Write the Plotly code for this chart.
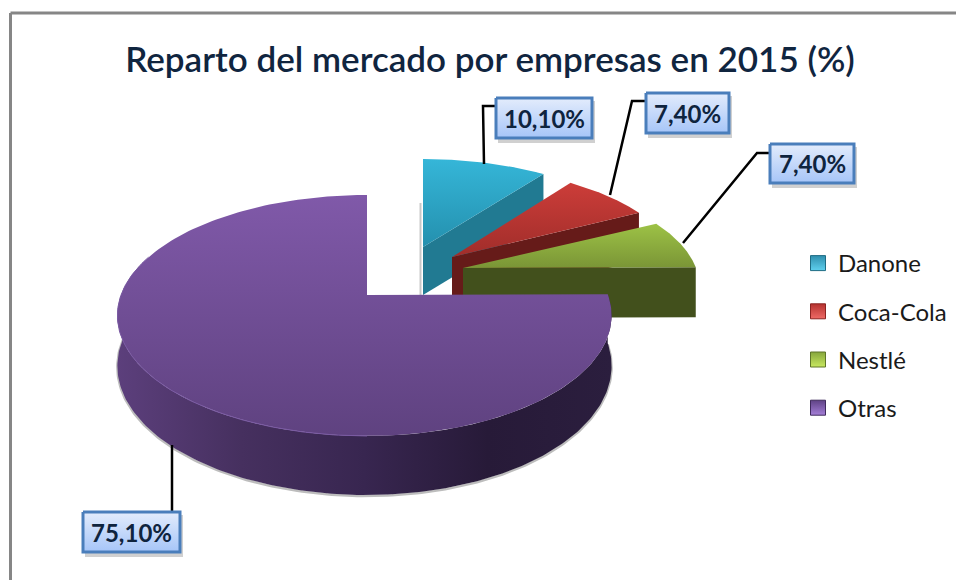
import numpy as np
import plotly.graph_objects as go

# --- data ---
companies = ["Danone", "Coca-Cola", "Nestlé", "Otras"]
shares = [10.1, 7.4, 7.4, 75.1]
share_labels = ["10,10%", "7,40%", "7,40%", "75,10%"]
title_text = "Reparto del mercado por empresas en 2015 (%)"

# --- style / layout ---
top_colors = [("#35B6D8", "#2490AE"), ("#CC3D39", "#A02D2A"), ("#9DC246", "#7A9536"), ("#8059A9", "#5F4280")]
wall_colors = ["#217A92", "#661B19", "#42501C", None]
legend_colors = ["#2F8FAE", "#B5322F", "#86A63C", "#5F4285"]
legend_light = ["#5FD0EE", "#EE6A66", "#C8E860", "#A57FD8"]
legend_edges = ["#1F6C84", "#8A2422", "#5E7529", "#3F2A5C"]
vertices = [(423, 247), (452, 257), (463, 268), (367, 295)]
radii = [(231, 103), (226, 105), (233, 106), (246, 117)]
depths = [48, 48, 50, 49]
K = 0.17
boxes = [(496, 98, 592, 138), (646, 93, 729, 133), (770, 144, 854, 183), (83, 512, 180, 552)]
leaders = [
    [(484, 164), (483, 106), (496, 106)],
    [(610, 195), (632, 101), (646, 101)],
    [(683, 243), (757, 153), (770, 153)],
    [(172, 445), (172, 512)],
]

fig = go.Figure()


def project(idx, theta, depth=0.0):
    vx, vy = vertices[idx]
    rx, ry = radii[idx]
    w = 1 + K * np.cos(theta)
    right = 241 if idx == 3 else rx
    xs = np.where(np.sin(theta) >= 0, right, rx) * np.sin(theta) / w
    return vx + xs, vy - ry * np.cos(theta) / w + depth / w


def poly(x, y, **kw):
    fig.add_trace(go.Scatter(x=list(x), y=list(y), mode="lines", fill="toself",
                             line=dict(width=0), hoverinfo="skip", showlegend=False, **kw))


def stroke(x, y, color, width):
    fig.add_trace(go.Scatter(x=list(x), y=list(y), mode="lines",
                             line=dict(color=color, width=width), hoverinfo="skip", showlegend=False))


edges = np.radians(np.cumsum([0] + shares) * 3.6)

# soft shadow strip left of the detached slice
stroke([420.5, 420.5], [203, 295], "#C8C8C8", 2)

for i in range(4):
    t0, t1 = edges[i], edges[i + 1]
    vx, vy = vertices[i]
    D = depths[i]
    if i < 3:
        # radial face at the end of the slice
        ex, ey = project(i, np.array([t1]))
        poly([vx, ex[0], ex[0], vx], [vy, ey[0], ey[0] + D, vy + D], fillcolor=wall_colors[i])
    else:
        # outer rim of the large slice, with a faint shadow under it
        th = np.linspace(t0, np.radians(285), 200)
        ax, ay = project(i, th)
        bx, by = project(i, th, D)
        stroke(bx, by + 1, "#BDBDBD", 2.5)
        poly(np.r_[ax, bx[::-1]], np.r_[ay, by[::-1]],
             fillgradient=dict(type="horizontal",
                               colorscale=[[0, "#5C3F7C"], [0.25, "#46305F"], [0.5, "#382650"],
                                           [0.75, "#271A38"], [1, "#2B1E3E"]]))
    # top face (the y axis is reversed, so the scale runs bottom to top)
    th = np.linspace(t0, t1, 200)
    ax, ay = project(i, th)
    poly(np.r_[vx, ax], np.r_[vy, ay],
         fillgradient=dict(type="vertical",
                           colorscale=[[0, top_colors[i][1]], [1, top_colors[i][0]]]))
    if i == 3:
        th = np.linspace(np.radians(180), np.radians(290), 120)
        ax, ay = project(i, th)
        stroke(ax, ay, "#7A5AA3", 1)

# leader lines and data labels
for pts in leaders:
    stroke([p[0] for p in pts], [p[1] for p in pts], "#000000", 2.5)
for (x0, y0, x1, y1), label in zip(boxes, share_labels):
    poly([x0 + 2, x1 + 3, x1 + 3, x0 + 2], [y0 + 3, y0 + 3, y1 + 5, y1 + 5], fillcolor="rgba(120,120,120,0.35)")
    fig.add_trace(go.Scatter(x=[x0, x1, x1, x0, x0], y=[y0, y0, y1, y1, y0], mode="lines", fill="toself",
                             line=dict(color="#4A7EBB", width=3), hoverinfo="skip", showlegend=False,
                             fillgradient=dict(type="vertical", colorscale=[[0, "#A6C5F8"], [1, "#E3ECFC"]])))
    fig.add_annotation(x=(x0 + x1) / 2, y=(y0 + y1) / 2, text=label, showarrow=False,
                       font=dict(family="Lato", size=24, color="#0F243E", weight=700))

# legend
for name, col, light, bc in zip(companies, legend_colors, legend_light, legend_edges):
    fig.add_trace(go.Scatter(x=[None], y=[None], mode="markers", name=name, legendgroup=name,
                             marker=dict(symbol="square", size=15, color=col,
                                         gradient=dict(type="vertical", color=light),
                                         line=dict(color=bc, width=1))))

# chart frame: only the top and left edges fall inside the picture
fig.add_shape(type="line", x0=10.5, y0=13, x1=956, y1=13, line=dict(color="#868686", width=3))
fig.add_shape(type="line", x0=10.5, y0=13, x1=10.5, y1=580, line=dict(color="#868686", width=3))

fig.update_layout(
    width=956, height=580, margin=dict(l=0, r=0, t=0, b=0),
    paper_bgcolor="#FFFFFF", plot_bgcolor="#FFFFFF",
    title=dict(text=title_text, x=490 / 956, y=1 - 60 / 580, xanchor="center", yanchor="middle",
               font=dict(family="Lato", size=35, color="#10253F", weight=600)),
    xaxis=dict(range=[0, 956], visible=False, fixedrange=True),
    yaxis=dict(range=[580, 0], visible=False, fixedrange=True),
    legend=dict(x=798 / 956, y=1 - 241 / 580, xanchor="left", yanchor="top", tracegroupgap=14,
                font=dict(family="Lato", size=24, color="#1A1A1A"), bgcolor="rgba(0,0,0,0)"),
)
fig.write_html("out.html", config={"displayModeBar": False},
               post_script="document.body.style.margin='0';")
